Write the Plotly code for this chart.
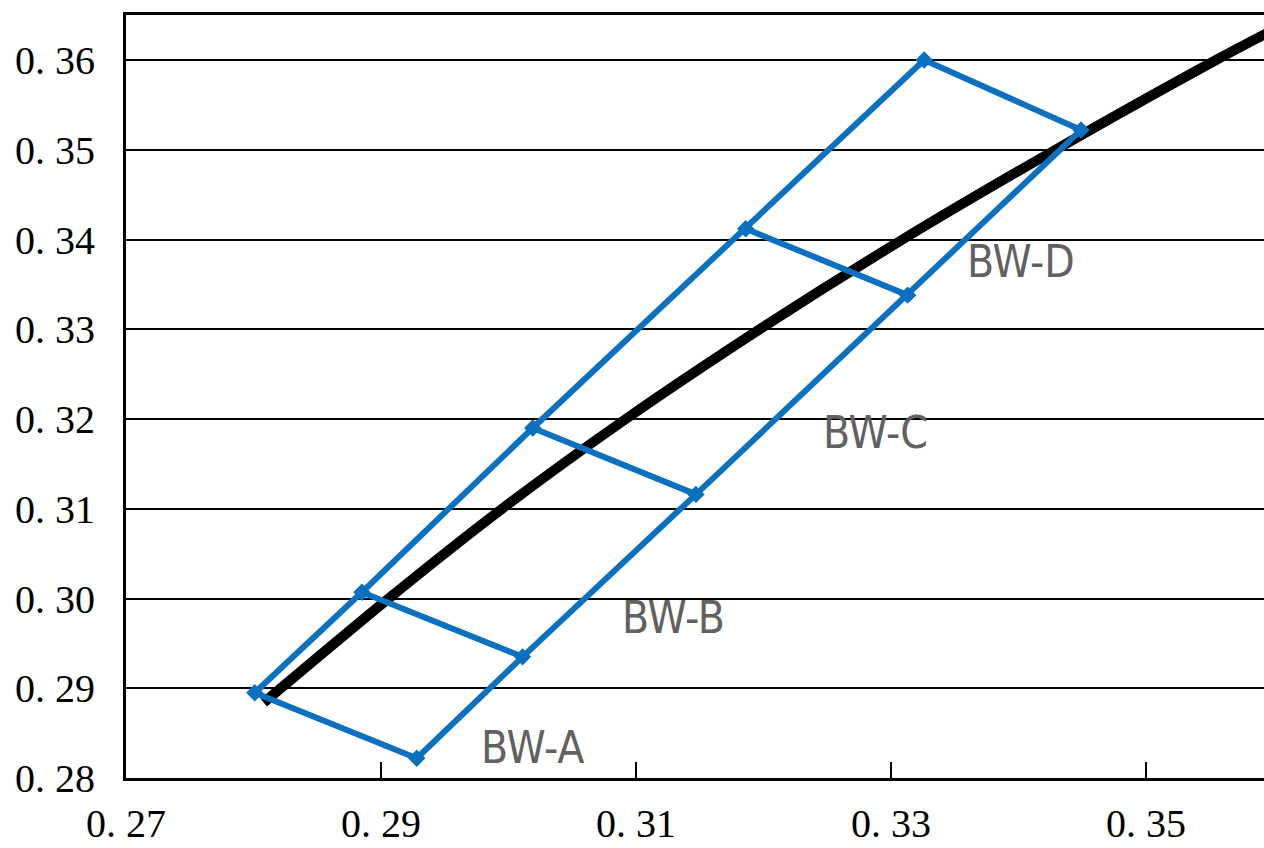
import plotly.graph_objects as go

# ---- data ----
curve_x = [0.2808, 0.2906, 0.2995, 0.3092, 0.3197, 0.3309, 0.3429, 0.3555, 0.3622]
curve_y = [0.2884, 0.3000, 0.3100, 0.3200, 0.3300, 0.3400, 0.3500, 0.3600, 0.3650]

left_x = [0.2801, 0.2885, 0.3019, 0.3186, 0.3326]
left_y = [0.2895, 0.3007, 0.3190, 0.3412, 0.3600]
right_x = [0.2928, 0.3011, 0.3147, 0.3313, 0.3449]
right_y = [0.2822, 0.2935, 0.3116, 0.3338, 0.3522]

labels = ["BW-A", "BW-B", "BW-C", "BW-D"]
label_x = [0.3019, 0.3129, 0.3288, 0.3402]
label_y = [0.2834, 0.2979, 0.3185, 0.3375]

x_ticks = [0.27, 0.29, 0.31, 0.33, 0.35]
y_ticks = [0.28, 0.29, 0.30, 0.31, 0.32, 0.33, 0.34, 0.35, 0.36]

def tick_text(v):
    return f"{v:.2f}".replace(".", ". ")

# build the blue grid: two rails plus rungs
bx, by = [], []
bx += left_x + [None]
by += left_y + [None]
bx += right_x + [None]
by += right_y + [None]
for i in range(len(left_x)):
    bx += [left_x[i], right_x[i], None]
    by += [left_y[i], right_y[i], None]

BLUE = "#0A70C0"

fig = go.Figure()
fig.add_trace(go.Scatter(
    x=curve_x, y=curve_y, mode="lines",
    line=dict(color="black", width=10, shape="spline", smoothing=0.8),
    hoverinfo="skip"))
fig.add_trace(go.Scatter(
    x=bx, y=by, mode="lines+markers",
    line=dict(color=BLUE, width=6),
    marker=dict(symbol="diamond", size=13, color=BLUE),
    connectgaps=False, hoverinfo="skip"))

for t, x, y in zip(labels, label_x, label_y):
    fig.add_annotation(x=x, y=y, text=t, showarrow=False,
                       font=dict(family="Liberation Sans Narrow, DejaVu Sans Condensed, sans-serif",
                                 size=44, color="#616161"))

tick_font = dict(family="Liberation Serif, DejaVu Serif, serif", size=40, color="black")

fig.update_layout(
    width=1264, height=848,
    margin=dict(l=126, r=0, t=15, b=70, autoexpand=False),
    paper_bgcolor="white", plot_bgcolor="white",
    showlegend=False,
    xaxis=dict(
        range=[0.27, 0.35925], automargin=False,
        tickvals=x_ticks, ticktext=[tick_text(v) for v in x_ticks],
        ticks="inside", ticklen=16, tickwidth=2, tickcolor="black",
        showline=True, linecolor="black", linewidth=3, mirror=True,
        showgrid=False, zeroline=False,
        tickfont=tick_font, ticklabelstandoff=8,
    ),
    yaxis=dict(
        range=[0.28, 0.365014], automargin=False,
        tickvals=y_ticks, ticktext=[tick_text(v) for v in y_ticks],
        ticks="", showline=True, linecolor="black", linewidth=3,
        showgrid=True, gridcolor="black", gridwidth=1.6,
        zeroline=False,
        tickfont=tick_font, ticklabelstandoff=20,
    ),
)

post = (
    "document.body.style.margin='0';"
    "document.body.style.overflow='hidden';"
)

fig.write_html(
    "out.html",
    config={"displayModeBar": False},
    post_script=post,
)
